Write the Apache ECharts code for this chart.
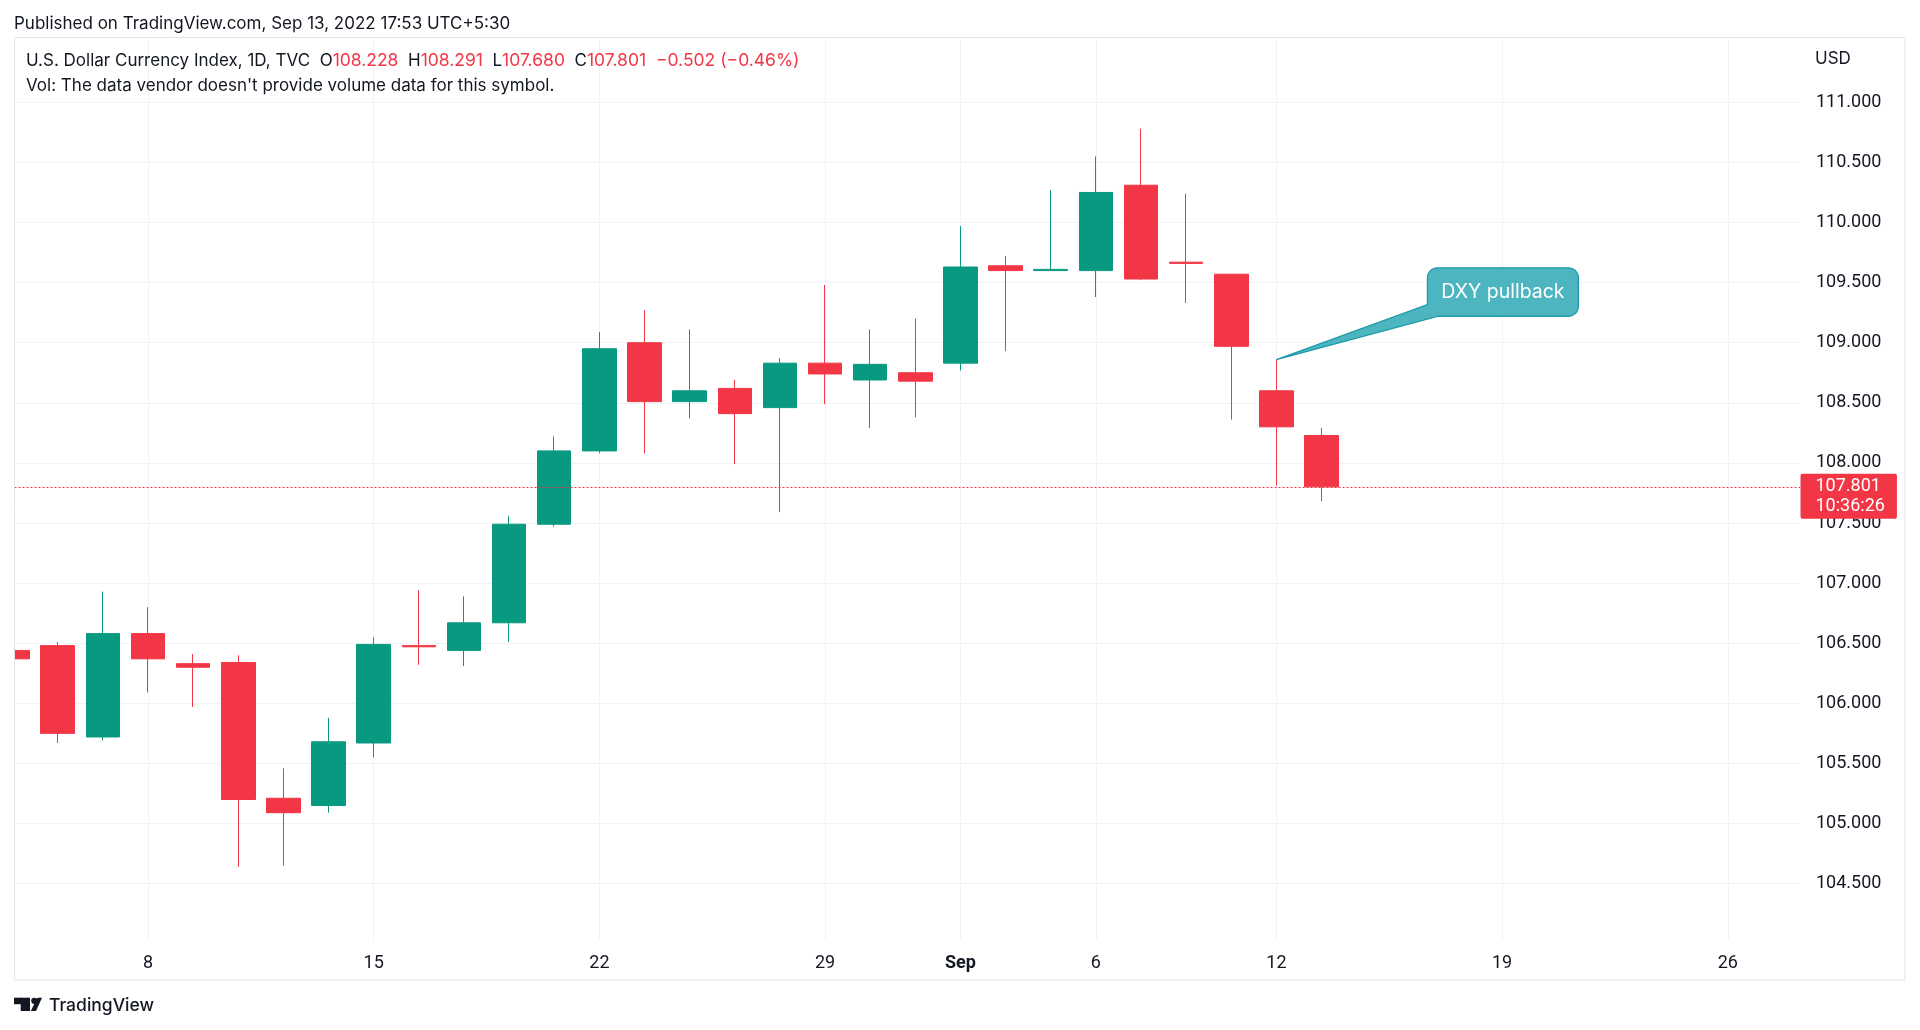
<!DOCTYPE html>
<html><head><meta charset="utf-8">
<script src="https://cdn.jsdelivr.net/npm/echarts@6/dist/echarts.min.js"></script>
<style>html,body{margin:0;padding:0;background:#fff}#c{width:1920px;height:1030px}</style>
</head><body><div id="c"></div>
<script>
// ---------- data ----------
const dates = ['2022-08-03','2022-08-04','2022-08-05','2022-08-08','2022-08-09','2022-08-10','2022-08-11','2022-08-12',
  '2022-08-15','2022-08-16','2022-08-17','2022-08-18','2022-08-19','2022-08-22','2022-08-23','2022-08-24','2022-08-25','2022-08-26',
  '2022-08-29','2022-08-30','2022-08-31','2022-09-01','2022-09-02','2022-09-05','2022-09-06','2022-09-07','2022-09-08','2022-09-09',
  '2022-09-12','2022-09-13','2022-09-14','2022-09-15','2022-09-16','2022-09-19','2022-09-20','2022-09-21','2022-09-22','2022-09-23',
  '2022-09-26','2022-09-27'];
const open  = [106.44,106.48,105.72,106.58,106.33,106.34,105.21,105.15,105.67,106.48,106.44,106.67,107.49,108.10,109.00,108.51,108.62,108.46,108.83,108.69,108.75,108.83,109.64,109.60,109.60,110.31,109.67,109.57,108.60,108.228];
const high  = [106.44,106.51,106.93,106.80,106.41,106.40,105.46,105.88,106.55,106.94,106.89,107.56,108.22,109.09,109.27,109.11,108.69,108.87,109.48,109.11,109.20,109.97,109.72,110.27,110.55,110.78,110.24,109.57,108.86,108.291];
const low   = [106.37,105.67,105.69,106.09,105.97,104.64,104.65,105.09,105.55,106.32,106.31,106.51,107.47,108.08,108.08,108.37,107.99,107.59,108.49,108.29,108.38,108.77,108.93,109.60,109.38,109.52,109.33,108.36,107.81,107.680];
const close = [106.37,105.75,106.58,106.37,106.30,105.20,105.09,105.68,106.49,106.47,106.67,107.49,108.10,108.95,108.51,108.60,108.41,108.83,108.74,108.82,108.68,109.63,109.60,109.61,110.25,109.53,109.66,108.97,108.30,107.801];
const yTicks = [104.5,105,105.5,106,106.5,107,107.5,108,108.5,109,109.5,110,110.5,111];
const xTickDates  = ['2022-08-08','2022-08-15','2022-08-22','2022-08-29','2022-09-01','2022-09-06','2022-09-12','2022-09-19','2022-09-26'];
const xTickLabels = ['8','15','22','29','Sep','6','12','19','26'];
const lastPrice = 107.801;
const countdown = '10:36:26';
const changeText = '\u22120.502 (\u22120.46%)';
const calloutDate = '2022-09-12';
const calloutText = 'DXY pullback';
const publishedText = 'Published on TradingView.com, Sep 13, 2022 17:53 UTC+5:30';
const symbolText = 'U.S. Dollar Currency Index, 1D, TVC';
const volText = "Vol: The data vendor doesn't provide volume data for this symbol.";

// ---------- chart ----------
const FONT = 'Inter, Roboto, "Noto Sans", sans-serif';
const NUMFONT = 'Roboto, Inter, sans-serif';
const UP = '#089981', DOWN = '#f23645', TXT = '#131722', GRID = '#f0f3fa', FRAME = '#e0e3eb';
const N = dates.length;
const last = open.length - 1;
const candles = open.map((o, i) => [i, o, close[i], low[i], high[i]]);
const xIdx = xTickDates.map(d => dates.indexOf(d));
const labelByIdx = {};
xIdx.forEach((k, j) => { labelByIdx[k] = xTickLabels[j]; });
const X_MIN = 0.042, X_MAX = 39.6;          // visible window (in bar units)
const Y_MIN = 104.031, Y_MAX = 111.535;     // visible price window

const chart = echarts.init(document.getElementById('c'), null, {renderer: 'canvas'});
const fmt3 = v => v.toFixed(3);

chart.setOption({
  animation: false,
  backgroundColor: '#ffffff',
  textStyle: {fontFamily: FONT},
  title: [
    {text: publishedText, left: 14, top: 15, padding: 0,
     textStyle: {fontSize: 17, fontWeight: 'normal', color: TXT, fontFamily: FONT}},
    {text: '{n|' + symbolText + '  O}{r|' + fmt3(open[last]) + '}{n|  H}{r|' + fmt3(high[last]) + '}{n|  L}{r|' + fmt3(low[last]) +
           '}{n|  C}{r|' + fmt3(close[last]) + '  ' + changeText + '}',
     left: 26, top: 52, padding: 0,
     textStyle: {fontSize: 17, fontWeight: 'normal', fontFamily: FONT, rich: {
       n: {fontSize: 17, fontWeight: 'normal', color: TXT, fontFamily: FONT},
       r: {fontSize: 17.5, fontWeight: 'normal', color: DOWN, fontFamily: FONT}}}},
    {text: volText, left: 26, top: 77.5, padding: 0,
     textStyle: {fontSize: 17, fontWeight: 'normal', color: TXT, fontFamily: FONT}},
    {text: 'USD', left: 1815, top: 50, padding: 0,
     textStyle: {fontSize: 17, fontWeight: 'normal', color: TXT, fontFamily: FONT}},
    {text: 'TradingView', left: 49, top: 997, padding: 0,
     textStyle: {fontSize: 17.5, fontWeight: 500, color: TXT, fontFamily: FONT}}
  ],
  grid: {left: 14.5, top: 38, width: 1785.5, height: 902},
  xAxis: {
    type: 'value', min: X_MIN, max: X_MAX,
    axisLine: {show: false},
    axisTick: {show: false, customValues: xIdx},
    axisLabel: {customValues: xIdx, margin: 14, fontSize: 18, color: TXT, fontFamily: NUMFONT,
      formatter: v => { const s = labelByIdx[Math.round(v)] || ''; return s === 'Sep' ? '{b|Sep}' : s; },
      rich: {b: {fontWeight: 'bold', fontSize: 18, color: TXT, fontFamily: NUMFONT}}},
    splitLine: {show: true, lineStyle: {color: GRID, width: 1}}
  },
  yAxis: {
    type: 'value', position: 'right', min: Y_MIN, max: Y_MAX, scale: true,
    axisLine: {show: false},
    axisTick: {show: false, customValues: yTicks},
    axisLabel: {customValues: yTicks, margin: 16, fontSize: 18, color: TXT, fontFamily: NUMFONT,
      padding: [4, 0, 0, 0], formatter: v => v.toFixed(3)},
    splitLine: {show: true, lineStyle: {color: GRID, width: 1}}
  },
  series: [{
    type: 'candlestick',
    data: candles,
    barWidth: 34,
    itemStyle: {color: UP, color0: DOWN, borderColor: UP, borderColor0: DOWN, borderWidth: 1},
    markLine: {
      symbol: ['none', 'none'], silent: true, animation: false,
      lineStyle: {color: DOWN, type: [2, 2], width: 1},
      label: {show: false},
      emphasis: {disabled: true},
      data: [{yAxis: lastPrice}]
    },
    markPoint: {
      silent: true, animation: false,
      symbol: 'rect', symbolSize: 1,
      itemStyle: {color: 'rgba(0,0,0,0)'},
      label: {show: true, position: [1, -12.5],
        formatter: fmt3(lastPrice) + '\n' + countdown,
        backgroundColor: DOWN, color: '#ffffff', padding: [3, 12, 3, 15], fontSize: 18, lineHeight: 19.5,
        borderRadius: 2, fontFamily: NUMFONT, align: 'left', verticalAlign: 'top'},
      emphasis: {disabled: true},
      data: [{coord: [X_MAX, lastPrice]}]
    }
  }]
});

// callout anchored on the Sep 12 high, via the chart's own scales
const ci = dates.indexOf(calloutDate);
const tip = chart.convertToPixel({xAxisIndex: 0, yAxisIndex: 0}, [ci, high[ci]]);
const L = tip[0] + 151, T = tip[1] - 91.7, W = 151, H = 48.4, r = 10;
const R = L + W, B = T + H;
function arc(cx, cy, a0, a1) {
  const pts = [];
  for (let k = 0; k <= 8; k++) {
    const a = (a0 + (a1 - a0) * k / 8) * Math.PI / 180;
    pts.push([cx + r * Math.cos(a), cy + r * Math.sin(a)]);
  }
  return pts;
}
const calloutPts = [].concat(
  arc(L + r, T + r, 180, 270),
  arc(R - r, T + r, 270, 360),
  arc(R - r, B - r, 0, 90),
  [[L + 11, B], [tip[0], tip[1]], [L, B - 11.7]]
);

chart.setOption({
  graphic: [
    {type: 'rect', shape: {x: 0, y: 30, width: 14.5, height: 960}, style: {fill: '#ffffff'}, silent: true, z: 100},
    {type: 'rect', shape: {x: 14.5, y: 37.5, width: 1890.5, height: 942.5}, style: {fill: 'none', stroke: FRAME, lineWidth: 1}, silent: true, z: 101},
    {type: 'polygon', shape: {points: calloutPts}, style: {fill: '#4db5c0', stroke: '#1f9aaa', lineWidth: 1.3}, z: 110},
    {type: 'text', x: L + W / 2, y: T + H / 2, style: {text: calloutText, fill: '#ffffff', font: '19.5px ' + FONT, textAlign: 'center', textVerticalAlign: 'middle'}, z: 111},
    // TradingView logo mark
    {type: 'rect', shape: {x: 14, y: 997.7, width: 8, height: 6.5}, style: {fill: TXT}, z: 105},
    {type: 'rect', shape: {x: 20.7, y: 997.7, width: 9.3, height: 13.3}, style: {fill: TXT}, z: 105},
    {type: 'circle', shape: {cx: 34.3, cy: 1000.8, r: 3.1}, style: {fill: TXT}, z: 105},
    {type: 'polygon', shape: {points: [[37.3, 997.7], [42, 997.7], [36, 1011], [30.8, 1011]]}, style: {fill: TXT}, z: 105}
  ]
});
</script>
</body></html>
